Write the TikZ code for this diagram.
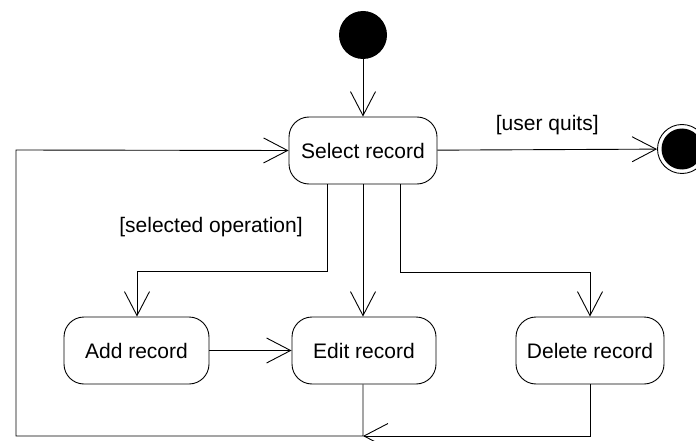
\documentclass[tikz,border=0pt]{standalone}
\usepackage{fontspec}
\setmainfont{Liberation Sans}
\usetikzlibrary{arrows.meta}
\begin{document}
\begin{tikzpicture}[x=1pt,y=-1pt,
  line width=0.9pt,
  every node/.style={font=\fontsize{21}{25}\selectfont},
  activity/.style={draw, rounded corners=20pt, minimum height=67pt, inner sep=0pt},
  flow/.style={-{Straight Barb[length=24pt,width=25pt,line width=0.9pt]}},
  guard/.style={inner sep=0pt}]
  \useasboundingbox (0,0) rectangle (696,441);
  % initial and final states
  \node (init) [circle, fill=black, minimum size=48pt, inner sep=0pt] at (363,35) {};
  \node (fin) [circle, draw, minimum size=49pt, inner sep=0pt] at (682,149) {};
  \fill (fin.center) circle (20.5pt);
  % activities
  \node (sel) [activity, minimum width=148pt] at (363,150.5) {Select record};
  \node (add) [activity, minimum width=145pt] at (136.5,350.5) {Add record};
  \node (edit) [activity, minimum width=144pt] at (364,350.5) {Edit record};
  \node (del) [activity, minimum width=148pt] at (590,350.5) {Delete record};
  % routing points
  \coordinate (m) at (363,436);
  \coordinate (c1) at (16,436);
  \coordinate (c2) at (16,150);
  % transitions
  \draw[flow] (init) -- (sel);
  \draw[flow] (sel) -- node[guard, above=14pt] {[user quits]} (fin);
  \draw[flow] (sel.south -| 327,0) |- (137,271) -- (add.north -| 137,0);
  \draw[flow] (sel.south -| 363,0) -- (edit.north -| 363,0);
  \draw[flow] (sel.south -| 400,0) |- (590,272) -- (del.north);
  \draw[flow] (add) -- (edit);
  \draw[flow] (del.south) |- (m);
  \draw[flow] (edit.south -| 363,0) -- (m) -- (c1) -- (c2) -- (sel.west);
  \node[guard] (g) at (211,227) {[selected operation]};
\end{tikzpicture}
\end{document}
